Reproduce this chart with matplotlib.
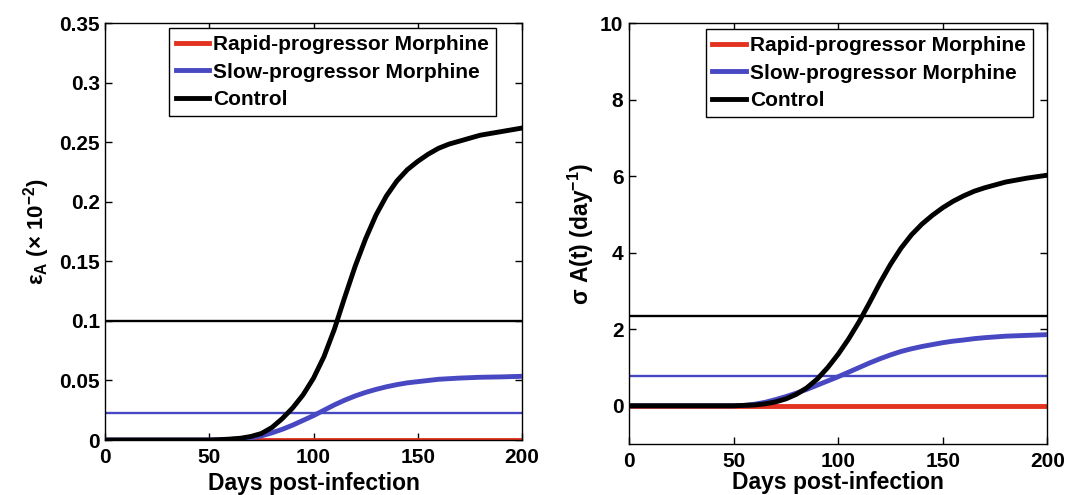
import matplotlib
matplotlib.use('Agg')
import matplotlib.pyplot as plt

plt.rcParams['font.family'] = ['Liberation Sans', 'DejaVu Sans']
plt.rcParams['font.weight'] = 'bold'
plt.rcParams['mathtext.default'] = 'regular'

# days post-infection
days = [0, 10, 20, 30, 40, 50, 55, 60, 65, 70, 75, 80, 85, 90, 95, 100, 105,
        110, 115, 120, 125, 130, 135, 140, 145, 150, 155, 160, 165, 170, 180,
        190, 200]

# left panel: epsilon_A (x 10^-2)
eps_rapid = [0.0] * len(days)
eps_slow = [0, 0, 0, 0, 0, 0, 0.0002, 0.0005, 0.001, 0.002, 0.0035, 0.006, 0.009,
            0.0125, 0.0165, 0.0205, 0.025, 0.0295, 0.0335, 0.037, 0.040, 0.0425,
            0.0447, 0.0465, 0.048, 0.049, 0.050, 0.051, 0.0515, 0.052, 0.0527,
            0.053, 0.0535]
eps_ctrl = [0, 0, 0, 0, 0, 0, 0.0003, 0.0008, 0.0015, 0.003, 0.0055, 0.0105,
            0.018, 0.027, 0.038, 0.052, 0.070, 0.093, 0.120, 0.146, 0.169, 0.189,
            0.205, 0.2175, 0.227, 0.234, 0.240, 0.245, 0.2485, 0.251, 0.256,
            0.259, 0.262]
eps_slow_level = 0.0225
eps_ctrl_level = 0.1

# right panel: sigma A(t) (day^-1)
sig_rapid = [0.0] * len(days)
sig_slow = [0, 0, 0, 0, 0, 0, 0.01, 0.04, 0.09, 0.16, 0.24, 0.33, 0.43, 0.54,
            0.65, 0.76, 0.88, 1.0, 1.12, 1.23, 1.33, 1.42, 1.49, 1.55, 1.60, 1.65,
            1.69, 1.72, 1.755, 1.78, 1.82, 1.84, 1.86]
sig_ctrl = [0, 0, 0, 0, 0, 0, 0.01, 0.02, 0.05, 0.10, 0.18, 0.30, 0.47, 0.70,
            1.0, 1.35, 1.75, 2.2, 2.7, 3.22, 3.7, 4.12, 4.47, 4.75, 4.98, 5.18,
            5.35, 5.49, 5.61, 5.7, 5.85, 5.95, 6.03]
sig_slow_level = 0.785
sig_ctrl_level = 2.34

labels = ['Rapid-progressor Morphine', 'Slow-progressor Morphine', 'Control']
red = '#e3321f'
blue = '#4848c2'

fig = plt.figure(figsize=(10.67, 4.95), dpi=100)
ax1 = fig.add_axes([0.0987, 0.1111, 0.3903, 0.8418])
ax2 = fig.add_axes([0.5895, 0.1030, 0.3922, 0.8499])


def panel(ax, rapid, slow, ctrl, slow_level, ctrl_level, legpos, xpad):
    ax.axhline(ctrl_level, color='k', lw=1.7, zorder=1)
    ax.axhline(slow_level, color=blue, lw=1.7, zorder=1)
    ax.plot(days, rapid, color=red, lw=3.5, label=labels[0], zorder=2)
    ax.plot(days, slow, color=blue, lw=3.5, label=labels[1], zorder=3)
    ax.plot(days, ctrl, color='k', lw=3.5, label=labels[2], zorder=4)
    ax.set_xlim(0, 200)
    ax.set_xticks([0, 50, 100, 150, 200])
    ax.tick_params(direction='in', top=True, right=True, length=5, width=1,
                   labelsize=15)
    ax.tick_params(axis='x', pad=6)
    ax.tick_params(axis='y', pad=4)
    for lab in ax.get_xticklabels():
        lab.set_fontweight('bold')
    ax.set_xlabel('Days post-infection', fontsize=16.5, fontweight='bold',
                  labelpad=xpad)
    leg = ax.legend(loc='upper right', bbox_to_anchor=legpos, borderaxespad=0,
                    prop={'weight': 'bold', 'size': 15},
                    frameon=True, fancybox=False, edgecolor='k', framealpha=1,
                    handlelength=1.6, handletextpad=0.2, borderpad=0.33,
                    labelspacing=0.4)
    leg.get_frame().set_linewidth(1.0)
    for line in leg.get_lines():
        line.set_linewidth(3.5)
    for spine in ax.spines.values():
        spine.set_linewidth(1.0)


panel(ax1, eps_rapid, eps_slow, eps_ctrl, eps_slow_level, eps_ctrl_level,
      (0.9383, 0.988), 3)
ax1.set_ylim(0, 0.35)
ax1.set_yticks([0, 0.05, 0.1, 0.15, 0.2, 0.25, 0.3, 0.35])
ax1.set_yticklabels(['0', '0.05', '0.1', '0.15', '0.2', '0.25', '0.3', '0.35'],
                    fontweight='bold')
ax1.set_ylabel(r'$\epsilon_A$ (× 10$^{-2}$)', fontsize=16, fontweight='bold',
               labelpad=5)

panel(ax2, sig_rapid, sig_slow, sig_ctrl, sig_slow_level, sig_ctrl_level,
      (0.9646, 0.9857), 0)
ax2.set_ylim(-1, 10)
ax2.set_yticks([0, 2, 4, 6, 8, 10])
ax2.set_yticklabels(['0', '2', '4', '6', '8', '10'], fontweight='bold')
ax2.set_ylabel(r'$\sigma$ A(t) (day$^{-1}$)', fontsize=16.5, fontweight='bold',
               labelpad=3)

fig.savefig('out.png', dpi=100)
